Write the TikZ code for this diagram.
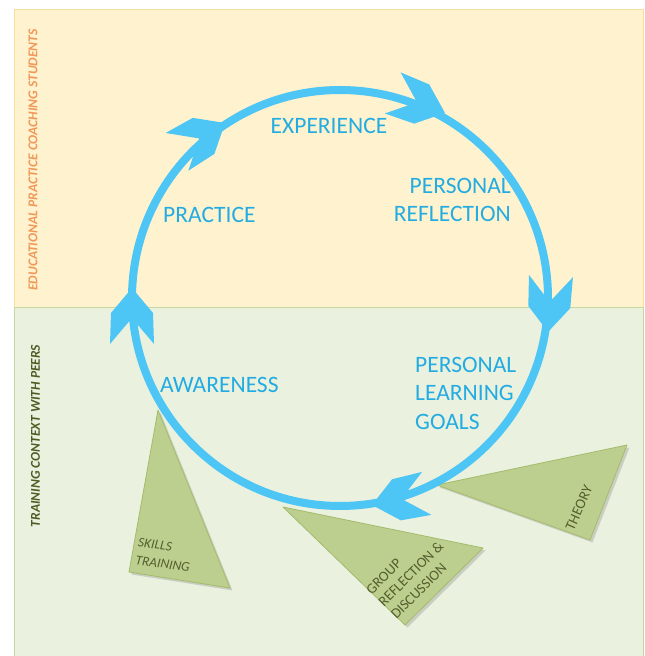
\documentclass[tikz,border=0pt]{standalone}
\usepackage{fontspec}
\setmainfont{Carlito}
\usetikzlibrary{shadows}

\definecolor{cycleblue}{RGB}{77,197,245}
\definecolor{labelblue}{RGB}{35,172,226}
\definecolor{topfill}{RGB}{255,242,206}
\definecolor{topline}{RGB}{246,224,158}
\definecolor{lowfill}{RGB}{235,241,223}
\definecolor{lowline}{RGB}{198,216,158}
\definecolor{wedgefill}{RGB}{189,207,142}
\definecolor{wedgeline}{RGB}{163,188,108}
\definecolor{wedgetext}{RGB}{84,94,46}
\definecolor{zoneorange}{RGB}{240,152,88}
\definecolor{zoneolive}{RGB}{78,92,36}

\tikzset{
  stage/.style={text=labelblue, font=\fontsize{23.5}{28.5}\selectfont, inner sep=0pt},
  zonelabel/.style={font=\fontsize{13.5}{16}\selectfont\bfseries\itshape, rotate=90, inner sep=0pt},
  wedge/.style={fill=wedgefill, draw=wedgeline, line width=0.8pt, line join=round,
    drop shadow={shadow xshift=2.5pt, shadow yshift=-2.5pt, opacity=0.3}},
  wedgelabel/.style={text=wedgetext, font=\fontsize{14.5}{17.5}\selectfont, inner sep=0pt, align=left},
  wedgeitalic/.style={text=wedgetext, font=\fontsize{13.5}{18}\selectfont\itshape, inner sep=0pt, align=left},
  cyclehead/.style={fill=cycleblue},
}

% barbed arrowhead: tip x, tip y, direction
\newcommand\cyclearrow[3]{%
  \fill[cyclehead, shift={(#1,#2)}, rotate=#3]
    (0,0) -- (-25,21) -- (-56,22) -- (-30,0) -- (-56,-22) -- (-25,-21) -- cycle;}

\begin{document}
\begin{tikzpicture}[x=1pt,y=1pt]
\useasboundingbox (0,0) rectangle (645,656);
\fill[white] (0,0) rectangle (645,656);

% the two zones
\draw[fill=topfill, draw=topline, line width=1pt] (14,348) rectangle (643,646);
\draw[fill=lowfill, draw=lowline, line width=1pt] (14,-5) rectangle (643,348);

\node[zonelabel, text=zoneorange] (edu) at (33,496) {EDUCATIONAL PRACTICE COACHING STUDENTS};
\node[zonelabel, text=zoneolive] (peer) at (35.5,220) {TRAINING CONTEXT WITH PEERS};

% input wedges
\coordinate (sk1) at (158,246);
\coordinate (sk2) at (129,84);
\coordinate (sk3) at (230,68);
\draw[wedge] (sk1) -- (sk2) -- (sk3) -- cycle;

\coordinate (gr1) at (283,149);
\coordinate (gr2) at (483,108);
\coordinate (gr3) at (405,31);
\draw[wedge] (gr1) -- (gr2) -- (gr3) -- cycle;

\coordinate (th1) at (437,171);
\coordinate (th2) at (627,211);
\coordinate (th3) at (590,116);
\draw[wedge] (th1) -- (th2) -- (th3) -- cycle;

\node[wedgeitalic, rotate=-8] (skl) at (164,101) {SKILLS\\TRAINING};
\node[wedgelabel, rotate=45] (grl) at (411,82) {GROUP\\REFLECTION \&\\DISCUSSION};
\node[wedgelabel, rotate=66] (thl) at (579,148) {THEORY};

% the learning cycle
\coordinate (hub) at (340,358);
\draw[cycleblue, line width=8pt] (hub) circle[radius=208];

\cyclearrow{132}{368}{90}
\cyclearrow{225}{533}{31}
\cyclearrow{445}{543}{-21}
\cyclearrow{548}{324}{-93}
\cyclearrow{372}{151}{-168}

% stages
\node[stage, anchor=north] (exp) at (329,538) {EXPERIENCE};
\node[stage, anchor=north east, align=right] (refl) at (511,478) {PERSONAL\\REFLECTION};
\node[stage, anchor=north west] (prac) at (163,449) {PRACTICE};
\node[stage, anchor=north west, align=left] (goals) at (415,299) {PERSONAL\\LEARNING\\GOALS};
\node[stage, anchor=north west] (aware) at (160,279) {AWARENESS};
\end{tikzpicture}
\end{document}
